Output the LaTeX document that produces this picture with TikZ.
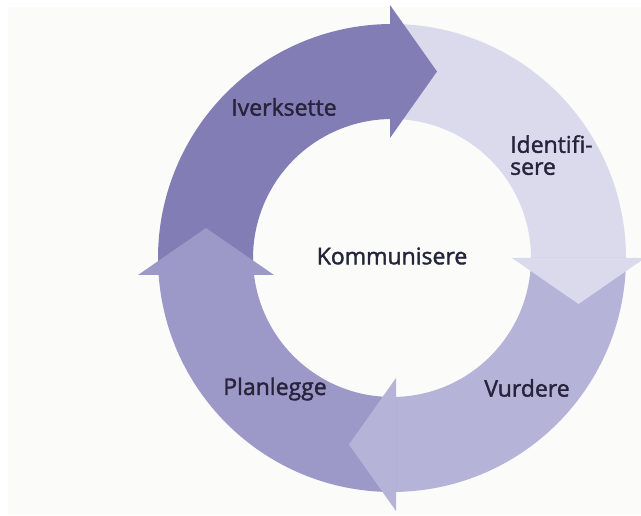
\documentclass[tikz,border=0pt]{standalone}
\usepackage{fontspec}
\newfontfamily\lblfont{Open Sans}[FakeBold=1.6]
\usetikzlibrary{calc}
\definecolor{bgcol}{HTML}{FBFCFA}
\definecolor{cIver}{HTML}{827DB4}
\definecolor{cIden}{HTML}{DBD9EC}
\definecolor{cVurd}{HTML}{B6B3D8}
\definecolor{cPlan}{HTML}{9C98C8}
\definecolor{txtcol}{HTML}{25243A}
\tikzset{
  lbl/.style={font=\lblfont\fontsize{23}{26}\selectfont, text=txtcol, inner sep=0pt},
}
\begin{document}
\begin{tikzpicture}[x=1pt,y=1pt]
\useasboundingbox (0,0) rectangle (641,515);
\fill[white] (0,0) rectangle (641,515);
\fill[bgcol] (8,0) rectangle (641,508);
\coordinate (C) at (392,257);
% bodies
\fill[cIver] ($(C)+(184.17:234)$) arc[start angle=184.17, end angle=90.49, radius=234]
   -- ($(C)+(90.82:139)$) arc[start angle=90.82, end angle=187.0, radius=139] -- cycle;
\fill[cIden] ($(C)+(90.49:234)$) arc[start angle=90.49, end angle=0, radius=234]
   -- ($(C)+(0:139)$) arc[start angle=0, end angle=90.82, radius=139] -- cycle;
\fill[cVurd] ($(C)+(0:234)$) arc[start angle=0, end angle=-89.02, radius=234]
   -- ($(C)+(-88.35:139)$) arc[start angle=-88.35, end angle=0, radius=139] -- cycle;
\fill[cPlan] ($(C)+(270.98:234)$) arc[start angle=270.98, end angle=184.17, radius=234]
   -- ($(C)+(187.0:139)$) arc[start angle=187.0, end angle=271.65, radius=139] -- cycle;
% heads
\fill[cIver] (390,510) -- (437,443.5) -- (390,377) -- cycle;
\fill[cIden] (512,257) -- (578.5,211) -- (645,257) -- cycle;
\fill[cVurd] (396,137) -- (349,70.5) -- (396,4) -- cycle;
\fill[cPlan] (138,240) -- (206,287) -- (274,240) -- cycle;
% labels
\node[lbl] (iver) at (284,408) {Iverksette};
\node[lbl, align=left, anchor=north west, font=\lblfont\fontsize{23}{22}\selectfont] (iden) at (510,380) {Identifi-\\sere};
\node[lbl] (komm) at (392,259) {Kommunisere};
\node[lbl] (plan) at (275,126) {Planlegge};
\node[lbl] (vurd) at (527,127) {Vurdere};
\end{tikzpicture}
\end{document}
